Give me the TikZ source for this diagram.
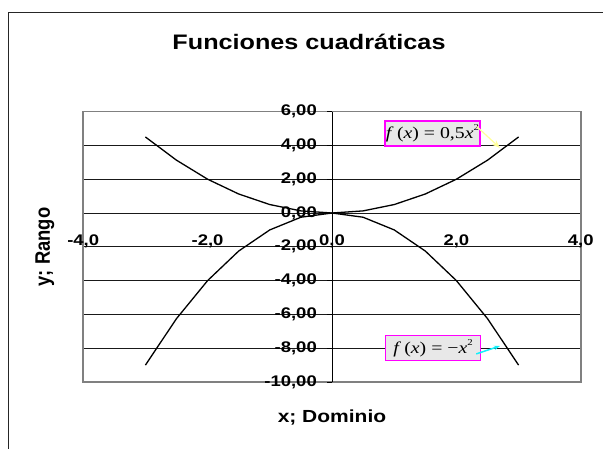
\documentclass[tikz,border=0pt]{standalone}
\usepackage{fontspec}
\setmainfont{Liberation Sans}
\newfontfamily\eqfont{Liberation Serif}
\usetikzlibrary{arrows.meta}
\definecolor{callmag}{RGB}{255,0,255}
\definecolor{callfill}{RGB}{232,232,232}
\definecolor{paleyel}{RGB}{255,255,153}
\definecolor{callcyan}{RGB}{20,240,250}
\newcommand{\wide}[1]{\scalebox{1.2}[1]{#1}}
\newcommand{\sqd}{\raisebox{0.5em}{\fontsize{9}{9}\selectfont 2}}
\tikzset{
  callout/.style={rectangle,draw=callmag,line width=1.5pt,fill=callfill,minimum width=95pt,minimum height=25pt,inner sep=0pt,font=\eqfont\fontsize{16.5}{17}\selectfont},
  ticklab/.style={font=\bfseries\fontsize{15.4}{16}\selectfont,inner sep=0pt},
  axtitle/.style={font=\bfseries\fontsize{17.5}{18}\selectfont},
  curve/.style={line width=1.3pt,line join=round}
}
\begin{document}
\begin{tikzpicture}[x=1pt,y=-1pt]
\useasboundingbox (0,0) rectangle (603,448);
\draw[black!85,line width=1.3pt] (8.5,12.7) rectangle (640,480);
\node[font=\bfseries\fontsize{21}{22}\selectfont] (title) at (309,42) {\wide{Funciones cuadráticas}};
\begin{scope}[shift={(332,213)},x=62.2pt,y=16.9pt]
\foreach \v in {-8,-6,...,4} \draw[black!90,line width=0.9pt] (-4,\v) -- (4,\v);
\draw[gray,line width=1.5pt] (-4,-10) rectangle (4,6);
\draw[line width=0.9pt] (0,-10) -- (0,6);
\foreach \v in {-10,-8,...,6} \draw[line width=0.9pt] (0,\v) -- ++(-5pt,0);
\draw[curve] plot[domain=-3:3,samples=13] (\x,{0.5*(\x)*(\x)});
\draw[curve] plot[domain=-3:3,samples=13] (\x,{-(\x)*(\x)});
\foreach \v [count=\i] in {-10,-8,...,6} \node[ticklab,anchor=east] (ylab\i) at ([xshift=-15pt]0,\v) {\wide{\v,00}};
\foreach \v [count=\i] in {-4,-2,...,4} \node[ticklab] (xlab\i) at (\v,-1.7) {\wide{\v,0}};
\coordinate (postip) at (2.7,3.85);
\coordinate (negtip) at (2.70,-7.87);
\end{scope}
\node[axtitle] (xtitle) at (332,418) {\wide{x; Dominio}};
\node[axtitle,rotate=90] (ytitle) at (45,247) {\scalebox{1.05}[1.2]{y; Rango}};
\node[callout] (posbox) at (432.5,133.3) {\wide{\textit{f}\,(\textit{x}) = 0,5\textit{x}\sqd}};
\node[callout] (negbox) at (433,348) {\wide{\textit{f}\,(\textit{x}) = −\textit{x}\sqd}};
\draw[paleyel,line width=1.2pt,-{Stealth}] ([xshift=-4pt]posbox.8) -- (postip);
\draw[callcyan,line width=1.5pt,-{Stealth[length=6pt]}] ([xshift=-5pt]negbox.-7) -- (negtip);
\end{tikzpicture}
\end{document}
